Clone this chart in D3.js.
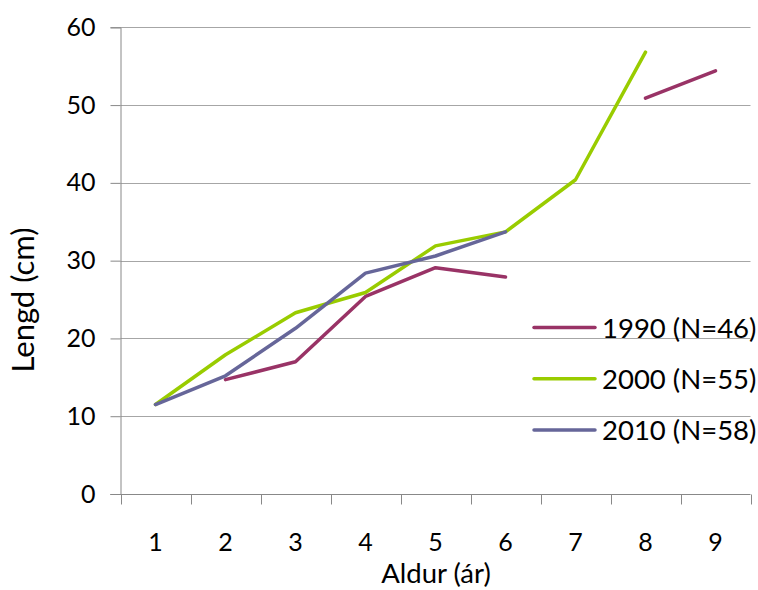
<!DOCTYPE html>
<html>
<head>
<meta charset="utf-8">
<script src="https://cdn.jsdelivr.net/npm/d3@7"></script>
<style>
  html, body { margin: 0; padding: 0; background: #fff; }
  svg { display: block; font-family: Lato, Carlito, "Open Sans", sans-serif; }
</style>
</head>
<body>
<svg id="chart" width="758" height="590"></svg>
<script>
// Age classes (years)
const ages = ["1", "2", "3", "4", "5", "6", "7", "8", "9"];
// Mean length (cm) per age; null where no fish of that age
const len1990 = [null, 14.7, 17.0, 25.4, 29.1, 27.9, null, 50.9, 54.4];
const len2000 = [11.5, 17.9, 23.3, 25.9, 31.9, 33.7, 40.4, 56.8, null];
const len2010 = [11.5, 15.2, 21.3, 28.4, 30.6, 33.7, null, null, null];
const seriesNames = ["1990 (N=46)", "2000 (N=55)", "2010 (N=58)"];
const seriesColors = ["#993366", "#99cc00", "#666699"];
const yTicks = [0, 10, 20, 30, 40, 50, 60];

const series = [len1990, len2000, len2010];

const svg = d3.select("#chart");
const plotLeft = 120.5, plotRight = 750.5, plotTop = 27.3, plotBottom = 494;

const x = d3.scaleBand().domain(ages).range([plotLeft, plotRight]).padding(0);
const y = d3.scaleLinear().domain([0, 60]).range([plotBottom, plotTop]);

// Horizontal gridlines
svg.append("g").selectAll("line").data(yTicks.filter(d => d > 0)).join("line")
  .attr("x1", plotLeft).attr("x2", plotRight)
  .attr("y1", d => Math.round(y(d)) + 0.5).attr("y2", d => Math.round(y(d)) + 0.5)
  .attr("stroke", "#a6a6a6").attr("stroke-width", 1);

// Y axis
const yAxis = svg.append("g")
  .attr("transform", `translate(${plotLeft},0)`)
  .call(d3.axisLeft(y).tickValues(yTicks).tickSize(10).tickPadding(15));
yAxis.select(".domain").attr("stroke", "#888");
yAxis.selectAll(".tick line").attr("stroke", "#888");
yAxis.selectAll(".tick text").attr("font-size", 25).attr("fill", "#000")
  .attr("font-family", "Lato, Carlito, sans-serif");

// X axis with ticks at category boundaries
const xg = svg.append("g").attr("transform", `translate(0,${Math.round(plotBottom) + 0.5})`);
xg.append("line").attr("x1", plotLeft - 10).attr("x2", plotRight).attr("stroke", "#888");
const bounds = ages.map(a => x(a)).concat([plotRight]);
xg.selectAll("line.tk").data(bounds).join("line").attr("class", "tk")
  .attr("x1", d => Math.round(d) + 0.5).attr("x2", d => Math.round(d) + 0.5)
  .attr("y1", 0).attr("y2", 10).attr("stroke", "#888");
xg.selectAll("text").data(ages).join("text")
  .attr("x", d => x(d) + x.bandwidth() / 2).attr("y", 56)
  .attr("text-anchor", "middle").attr("font-size", 25).attr("fill", "#000")
  .text(d => d);

// Axis titles
svg.append("text").attr("x", 436).attr("y", 583).attr("text-anchor", "middle")
  .attr("font-size", 27.5).text("Aldur (ár)");
svg.append("text").attr("transform", "translate(34,300) rotate(-90)")
  .attr("text-anchor", "middle").attr("font-size", 31).text("Lengd (cm)");

// Series lines
const line = d3.line()
  .defined(d => d != null)
  .x((d, i) => x(ages[i]) + x.bandwidth() / 2)
  .y(d => y(d));
svg.append("g").selectAll("path").data(series).join("path")
  .attr("d", line)
  .attr("fill", "none")
  .attr("stroke", (d, i) => seriesColors[i])
  .attr("stroke-width", 3.5)
  .attr("stroke-linejoin", "round")
  .attr("stroke-linecap", "round");

// Legend
const lg = svg.append("g").selectAll("g").data(seriesNames).join("g")
  .attr("transform", (d, i) => `translate(534,${327.5 + i * 51.3})`);
lg.append("line").attr("x1", 0).attr("x2", 61).attr("y1", 0).attr("y2", 0)
  .attr("stroke", (d, i) => seriesColors[i]).attr("stroke-width", 3.5)
  .attr("stroke-linecap", "round");
lg.append("text").attr("x", 68).attr("y", 10).attr("font-size", 27.5).text(d => d);
</script>
</body>
</html>
